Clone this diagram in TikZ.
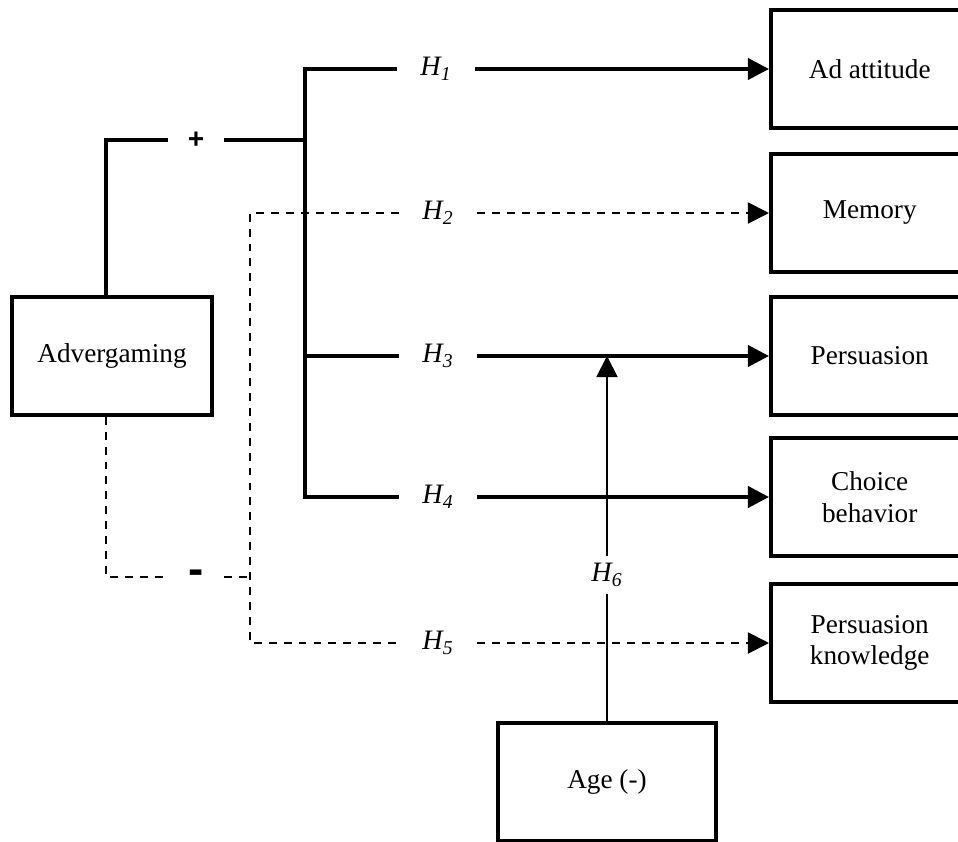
\documentclass[tikz,border=0pt]{standalone}
\usepackage{fontspec}
\setmainfont{Liberation Serif}
\newfontfamily\signfont{Liberation Sans}
\usetikzlibrary{arrows.meta}

\begin{document}
\begin{tikzpicture}
[
x=0.02cm,y=-0.02cm,
font=\fontsize{15.5}{18}\selectfont,
block/.style 2 args={draw,line width=2pt,minimum width=#1,minimum height=2.36cm,align=center,inner sep=2pt},
hyp/.style={inner sep=0pt,minimum width=1.56cm,minimum height=0.6cm,font=\fontsize{16}{18}\selectfont\itshape},
sign/.style={inner sep=0pt,minimum width=1.1cm,font=\fontsize{16}{18}\selectfont\signfont\bfseries},
solidline/.style={line width=2.2pt},
dashline/.style={line width=1.1pt,dash pattern=on 4.5pt off 4pt},
tip/.style={-{Triangle[length=12pt,width=12pt]}},
]
\useasboundingbox (0,0) rectangle (958,842);

\node[block={4cm}{}] (adv) at (112,356) {Advergaming};
\node[block={4.36cm}{}] (age) at (607,782) {Age (-)};

\node[block={3.96cm}{},anchor=west] (att) at (769,69) {Ad attitude};
\node[block={3.96cm}{},anchor=west] (mem) at (769,213) {Memory};
\node[block={3.96cm}{},anchor=west] (pers) at (769,356) {Persuasion};
\node[block={3.96cm}{},anchor=west] (cho) at (769,497) {Choice\\behavior};
\node[block={3.96cm}{},anchor=west] (pk) at (769,643) {Persuasion\\knowledge};

\node[hyp] (h1) at (436,69) {H\textsubscript{1}};
\node[hyp] (h2) at (438,213) {H\textsubscript{2}};
\node[hyp] (h3) at (438,356) {H\textsubscript{3}};
\node[hyp] (h4) at (438,497) {H\textsubscript{4}};
\node[hyp] (h5) at (438,643) {H\textsubscript{5}};
\node[hyp,minimum width=0pt,minimum height=0.76cm] (h6) at (607,575) {H\textsubscript{6}};

\node[sign] (plus) at (196,140) {+};
\node[sign,font=\fontsize{26}{18}\selectfont\signfont\bfseries] (minus) at (196,577) {-};

\coordinate (pos) at (305,497);
\coordinate (neg) at (250,643);

% positive paths
\draw[solidline] (adv.north -| 106,0) |- (plus);
\draw[solidline] (plus) -- (plus -| pos);
\draw[solidline] (h1) -| (pos) -- (h4);
\draw[solidline] (h3) -- (h3 -| pos);
\draw[solidline,tip] (h1) -- (att);
\draw[solidline,tip] (h3) -- (pers);
\draw[solidline,tip] (h4) -- (cho);

% negative paths
\draw[dashline] (adv.south -| 106,0) |- (minus);
\draw[dashline] (minus) -- (minus -| neg);
\draw[dashline] (h2) -| (neg) -- (h5);
\draw[dashline,tip] (h2) -- (mem);
\draw[dashline,tip] (h5) -- (pk);

% moderation
\draw[line width=1.1pt] (age) -- (h6);
\draw[line width=1.1pt,tip] (h6) -- (h6 |- pers);

\end{tikzpicture}
\end{document}
